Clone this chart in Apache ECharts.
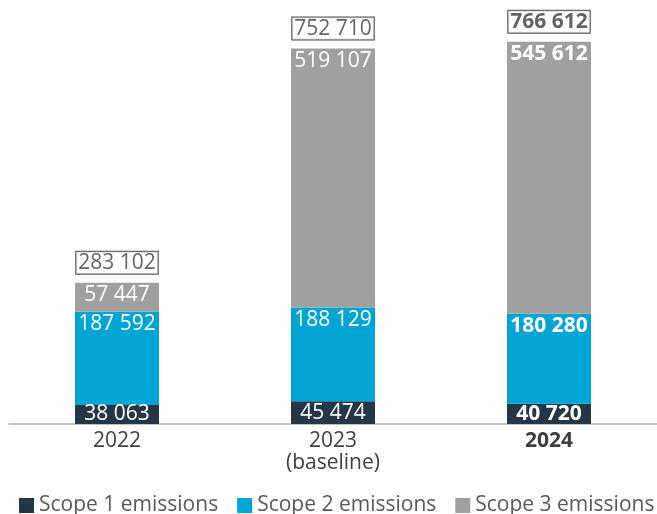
<!DOCTYPE html>
<html>
<head>
<meta charset="utf-8">
<script src="https://cdn.jsdelivr.net/npm/echarts@6/dist/echarts.min.js"></script>
<style>
  html, body { margin: 0; padding: 0; background: #fff; }
  #chart { width: 657px; height: 514px; }
</style>
</head>
<body>
<div id="chart"></div>
<script>
// Emissions by scope (tCO2e)
const years = ['2022', '2023\n(baseline)', '2024'];
const scope1 = [38063, 45474, 40720];
const scope2 = [187592, 188129, 180280];
const scope3 = [57447, 519107, 545612];
const seriesNames = ['Scope 1 emissions', 'Scope 2 emissions', 'Scope 3 emissions'];
const highlightIndex = 2; // latest year drawn in bold

const totals = years.map((_, i) => scope1[i] + scope2[i] + scope3[i]);

const FONT = '"Open Sans", "Noto Sans", sans-serif';
const FS = 21;
const fmt = v => String(v).replace(/\B(?=(\d{3})+(?!\d))/g, ' ');

function toData(arr) {
  return arr.map((v, i) => i === highlightIndex
    ? { value: v, label: { fontWeight: 'bold' } }
    : { value: v });
}

function barSeries(name, arr, color, pos) {
  return {
    name: name,
    type: 'bar',
    stack: 'total',
    barWidth: 84,
    itemStyle: { color: color },
    label: {
      show: true,
      position: pos,
      distance: 2,
      color: '#ffffff',
      fontFamily: FONT,
      fontSize: FS,
      formatter: p => fmt(p.value)
    },
    data: toData(arr)
  };
}

const chart = echarts.init(document.getElementById('chart'));
chart.setOption({
  animation: false,
  textStyle: { fontFamily: FONT },
  grid: { left: 9, right: -4, top: 24, bottom: 90, containLabel: false },
  legend: {
    data: seriesNames,
    top: 490,
    left: 14,
    width: 700,
    icon: 'rect',
    itemWidth: 15,
    itemHeight: 15,
    itemGap: 19,
    textStyle: { fontFamily: FONT, fontSize: FS, color: '#595959' }
  },
  xAxis: {
    type: 'category',
    data: years,
    axisLine: { lineStyle: { color: '#b0b0b0', width: 1.5 } },
    axisTick: { show: false },
    axisLabel: {
      margin: 6,
      fontSize: FS,
      color: '#3f3f3f',
      lineHeight: 22,
      formatter: (v, i) => i === highlightIndex ? '{b|' + v + '}' : v,
      rich: { b: { fontWeight: 'bold', fontSize: FS, color: '#3f3f3f', fontFamily: FONT } }
    }
  },
  yAxis: {
    type: 'value',
    min: 0,
    max: 802000,
    show: false,
    splitLine: { show: false }
  },
  series: [
    barSeries(seriesNames[0], scope1, '#253746', 'inside'),
    barSeries(seriesNames[1], scope2, '#00a5d3', 'insideTop'),
    barSeries(seriesNames[2], scope3, '#a0a0a0', 'insideTop'),
    {
      name: 'Total',
      type: 'scatter',
      symbolSize: 0,
      silent: true,
      label: {
        show: true,
        position: 'top',
        distance: 9,
        color: '#3c3c3c',
        fontFamily: FONT,
        fontSize: FS,
        backgroundColor: '#ffffff',
        borderColor: '#222222',
        borderWidth: 1,
        padding: [1, 2, 0, 2],
        formatter: p => fmt(p.value)
      },
      data: toData(totals)
    }
  ]
});
</script>
</body>
</html>
